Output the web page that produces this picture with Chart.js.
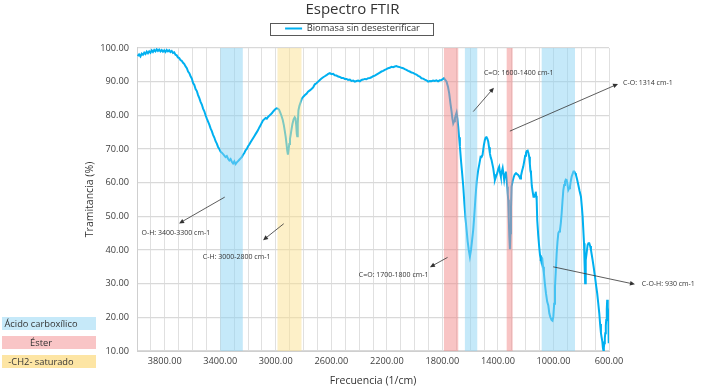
<!DOCTYPE html>
<html><head><meta charset="utf-8">
<script src="https://cdn.jsdelivr.net/npm/chart.js@4.4.1/dist/chart.umd.min.js"></script>
<style>html,body{margin:0;padding:0;background:#fff}#wrap{width:705px;height:391px;position:relative}</style>
</head><body><div id="wrap"><canvas id="c" width="705" height="391"></canvas></div>
<script>
// ---- data ----
const seriesName = 'Biomasa sin desesterificar';
const wavenumber = [3995,3985,3975,3966,3957,3948,3939,3930,3921,3912,3903,3894,3885,3876,3867,3858,3849,3840,3831,3822,3813,3804,3795,3786,3777,3768,3759,3750,3741,3732,3723,3714,3705,3696,3687,3678,3668,3659,3650,3641,3632,3623,3614,3605,3596,3587,3578,3569,3560,3551,3542,3533,3524,3515,3506,3497,3488,3479,3470,3461,3452,3443,3434,3425,3416,3407,3398,3389,3380,3371,3362,3353,3344,3335,3326,3317,3308,3299,3290,3281,3272,3263,3254,3245,3236,3227,3218,3209,3200,3191,3182,3173,3164,3155,3146,3137,3128,3119,3110,3101,3092,3083,3074,3065,3056,3047,3038,3029,3020,3011,3002,2995,2986,2977,2968,2959,2950,2942,2935,2929,2923,2918,2913,2908,2903,2898,2893,2887,2880,2872,2864,2858,2853,2849,2846,2842,2837,2830,2822,2812,2800,2790,2779,2768,2755,2743,2731,2719,2707,2695,2683,2671,2659,2647,2635,2623,2611,2599,2587,2575,2563,2551,2539,2527,2515,2503,2491,2479,2467,2455,2443,2431,2419,2407,2395,2383,2371,2359,2347,2335,2323,2311,2299,2287,2275,2263,2251,2239,2227,2215,2203,2191,2179,2167,2155,2143,2131,2119,2107,2095,2083,2071,2059,2047,2035,2023,2011,1999,1987,1975,1963,1951,1939,1927,1915,1903,1891,1879,1867,1855,1843,1831,1819,1807,1797,1789,1781,1770,1760,1751,1742,1734,1728,1722,1716,1710,1704,1698,1692,1686,1680,1674,1666,1658,1650,1642,1634,1626,1618,1610,1602,1594,1586,1578,1570,1562,1554,1548,1542,1534,1525,1518,1511,1502,1494,1488,1482,1476,1470,1464,1458,1452,1446,1440,1434,1428,1422,1414,1405,1398,1391,1385,1379,1372,1366,1360,1355,1349,1343,1338,1333,1329,1326,1322,1318,1314,1310,1306,1302,1294,1285,1278,1270,1262,1254,1246,1240,1234,1226,1218,1210,1204,1198,1192,1186,1180,1175,1170,1166,1162,1156,1150,1144,1138,1133,1128,1124,1121,1117,1110,1103,1097,1092,1086,1081,1075,1069,1062,1054,1045,1037,1030,1022,1013,1007,1001,995,989,983,977,971,965,959,953,947,941,935,929,923,917,911,905,899,893,887,881,875,869,862,856,850,844,838,830,821,812,802,796,790,785,780,776,772,769,766,760,754,748,742,736,730,724,718,710,701,693,685,677,670,664,658,653,648,644,641,637,634,630,627,623,620,616,613,609,605,602];
const transmittance = [97.6,98.1,97.5,98.3,98.0,98.6,98.2,98.9,98.4,99.0,98.6,99.3,98.8,99.4,99.0,99.6,99.1,99.5,99.0,99.4,98.9,99.3,98.8,99.4,99.0,99.3,98.8,99.1,98.5,98.7,98.0,97.8,97.2,97.0,96.4,96.2,95.6,95.2,94.5,94.0,93.0,92.5,91.6,90.9,89.6,89.0,87.8,87.2,86.0,85.1,84.0,83.2,82.0,81.2,80.0,79.0,78.1,77.2,76.1,75.3,74.2,73.4,72.3,71.6,70.6,70.0,69.2,68.9,68.5,68.0,67.6,67.9,67.1,66.6,67.0,66.2,65.7,66.3,65.5,66.0,66.4,66.8,67.2,67.6,68.3,68.8,69.6,70.0,70.8,71.3,72.0,72.6,73.2,73.8,74.4,75.0,75.6,76.4,77.0,77.8,78.5,78.8,79.2,79.0,79.5,79.9,80.2,80.6,81.1,81.5,81.9,82.1,82.0,81.7,80.8,79.8,78.6,77.0,75.2,73.6,71.5,69.6,68.3,69.8,71.5,73.0,74.2,75.8,77.5,78.8,79.4,79.0,77.0,74.5,73.8,77.5,81.5,82.8,83.8,85.0,85.6,86.0,86.4,87.0,87.4,87.8,88.3,89.2,89.5,90.0,90.5,90.9,91.3,91.6,91.9,92.3,92.5,92.2,92.3,91.9,91.8,91.5,91.4,91.1,91.1,90.8,90.8,90.5,90.6,90.2,90.3,90.0,90.2,90.3,90.1,90.5,90.6,90.8,90.7,91.0,91.1,91.3,91.6,91.8,92.1,92.4,92.7,93.0,93.2,93.5,93.7,94.0,94.1,94.4,94.3,94.5,94.6,94.4,94.3,94.1,94.0,93.7,93.5,93.2,93.0,92.7,92.6,92.3,92.1,91.7,91.5,91.0,90.9,90.6,90.4,90.0,90.2,90.1,90.3,90.2,90.4,90.1,90.4,90.5,90.7,91.0,90.6,90.0,88.5,86.5,83.5,81.1,79.0,77.6,78.2,79.1,80.0,80.8,79.0,76.6,73.5,70.7,66.5,62.8,59.0,54.0,49.5,46.0,42.5,40.0,38.0,40.0,43.0,46.0,50.5,55.5,60.0,62.0,63.8,65.5,67.7,67.6,68.2,71.0,72.7,73.4,73.5,73.0,72.2,70.5,68.7,67.5,66.7,65.5,64.3,62.5,60.8,61.8,62.8,64.0,64.7,63.0,61.8,63.3,64.3,62.5,60.8,62.5,63.3,61.5,58.8,56.5,54.9,49.5,44.0,40.2,45.0,52.5,58.8,60.5,61.8,62.5,62.8,62.5,62.3,61.8,61.2,62.0,63.5,64.7,66.5,68.0,68.9,69.4,69.5,68.7,67.7,65.5,63.5,62.8,59.0,57.3,55.8,55.8,56.5,57.3,56.0,54.9,48.9,44.5,41.0,38.5,37.5,37.8,37.5,35.0,33.1,30.0,27.1,24.6,23.5,21.2,20.0,19.2,19.0,20.2,24.0,29.1,34.0,39.0,42.5,45.0,45.5,45.9,48.0,50.9,54.5,57.8,59.3,60.3,60.9,60.8,59.5,57.8,58.3,58.8,60.5,61.8,62.6,63.3,63.3,62.8,62.3,61.0,59.3,57.5,55.8,53.0,49.9,46.0,42.0,36.0,30.1,33.5,37.0,39.5,41.5,42.0,42.0,41.2,40.0,38.5,37.0,34.8,32.1,29.5,27.1,24.0,21.2,18.0,15.3,14.0,12.8,11.0,10.3,11.0,12.3,13.8,15.3,17.5,19.2,22.5,25.2,23.0,21.2,12.3];
const xTickValues = [3800,3400,3000,2600,2200,1800,1400,1000,600];
const yTickValues = [100,90,80,70,60,50,40,30,20,10];
// highlighted bands (cm-1) and their group
const bandGroups = ['Ácido carboxílico','Éster','-CH2- saturado'];
const bandStart = [3400,2988,1789,1638,1337,1085];
const bandEnd   = [3238,2815,1686,1549,1294,845];
const bandGroup = [0,2,1,0,1,0];
// annotations
const annoText = ['O-H: 3400-3300 cm-1','C-H: 3000-2800 cm-1','C=O: 1700-1800 cm-1','C=O: 1600-1400 cm-1','C-O: 1314 cm-1','C-O-H: 930 cm-1'];
const annoTextAt   = [[3968,45.1],[3526,37.9],[2402,32.6],[1501,92.7],[499,89.7],[364,29.8]];
const annoFrom     = [[3368,55.7],[2943,47.8],[1763,37.8],[1578,81.1],[1314,75.3],[1002,35.0]];
const annoTo       = [[3697,47.9],[3092,42.9],[1890,34.9],[1429,88.2],[535,89.3],[413,29.8]];

// ---- styles ----
const FONT = "'Open Sans', sans-serif";
const bandFill = ['rgba(139,211,243,0.5)','rgba(241,137,137,0.5)','rgba(251,225,145,0.5)'];
const keyFill = ['#c6e9f9','#f9c5c6','#fde5a4'];

const bandsPlugin = {
  id:'bands',
  afterDatasetsDraw(chart){
    const {ctx, chartArea:a, scales:{x}} = chart;
    ctx.save();
    ctx.beginPath(); ctx.rect(a.left,a.top,a.right-a.left,a.bottom-a.top); ctx.clip();
    bandStart.forEach((s,i)=>{
      const x1 = x.getPixelForValue(s), x2 = x.getPixelForValue(bandEnd[i]);
      ctx.fillStyle = bandFill[bandGroup[i]];
      ctx.fillRect(Math.min(x1,x2), a.top, Math.abs(x2-x1), a.bottom-a.top);
    });
    ctx.restore();
  }
};

const annoPlugin = {
  id:'anno',
  afterDraw(chart){
    const {ctx, scales:{x,y}, legend} = chart;
    ctx.save();
    // arrows
    ctx.strokeStyle = '#333'; ctx.fillStyle = '#333'; ctx.lineWidth = 0.8;
    annoFrom.forEach((f,i)=>{
      const x1 = x.getPixelForValue(f[0]), y1 = y.getPixelForValue(f[1]);
      const x2 = x.getPixelForValue(annoTo[i][0]), y2 = y.getPixelForValue(annoTo[i][1]);
      const ang = Math.atan2(y2-y1, x2-x1), L = 5, W = 2.3;
      ctx.beginPath(); ctx.moveTo(x1,y1); ctx.lineTo(x2 - Math.cos(ang)*L*0.8, y2 - Math.sin(ang)*L*0.8); ctx.stroke();
      ctx.beginPath();
      ctx.moveTo(x2,y2);
      ctx.lineTo(x2 - Math.cos(ang)*L - Math.sin(ang)*W, y2 - Math.sin(ang)*L + Math.cos(ang)*W);
      ctx.lineTo(x2 - Math.cos(ang)*L + Math.sin(ang)*W, y2 - Math.sin(ang)*L - Math.cos(ang)*W);
      ctx.closePath(); ctx.fill();
    });
    ctx.font = "7px " + FONT; ctx.textAlign='left'; ctx.textBaseline='middle'; ctx.fillStyle='#333';
    annoText.forEach((t,i)=>{
      ctx.fillText(t, x.getPixelForValue(annoTextAt[i][0]), y.getPixelForValue(annoTextAt[i][1]));
    });
    // legend frame
    const hb = legend.legendHitBoxes[0];
    if (hb){
      const cy = hb.top + hb.height/2;
      ctx.strokeStyle = '#595959'; ctx.lineWidth = 1;
      ctx.strokeRect(Math.round(hb.left - 15)+0.5, Math.round(cy - 6)+0.5, Math.round(hb.width + 28), 12);
    }
    // group key boxes
    ctx.font = "9.3px " + FONT; ctx.textAlign='center'; ctx.textBaseline='middle';
    bandGroups.forEach((g,i)=>{
      const top = 317 + i*19;
      ctx.fillStyle = keyFill[i];
      ctx.fillRect(2, top, 94, 13);
      ctx.fillStyle = '#333';
      ctx.fillText(g, 41, top + 7);
    });
    ctx.restore();
  }
};

const tickFont = {family: FONT, size: 9.2};
new Chart(document.getElementById('c'), {
  type:'line',
  data:{datasets:[{
    label: seriesName,
    data: wavenumber.map((w,i)=>({x:w, y:transmittance[i]})),
    borderColor:'#00B0F0', backgroundColor:'#00B0F0', borderWidth:2,
    pointRadius:0, tension:0, fill:false, xAxisID:'x', yAxisID:'y'
  }]},
  options:{
    responsive:false, animation:false, devicePixelRatio:1,
    layout:{padding:0},
    plugins:{
      title:{display:true, text:'Espectro FTIR', color:'#333', font:{family:FONT, size:15, weight:'normal', lineHeight:1.3333}, padding:{top:0,bottom:0}},
      legend:{display:true, labels:{usePointStyle:true, pointStyle:'line', pointStyleWidth:17, color:'#333', font:{family:FONT, size:9.3}, padding:3.9}},
      tooltip:{enabled:false}
    },
    scales:{
      x:{type:'linear', position:'bottom', reverse:true, min:600, max:4000,
         afterBuildTicks: s => { const t=[]; for (let v=s.max; v>=s.min; v-=100) t.push({value:v}); s.ticks=t; },
         ticks:{autoSkip:false, maxRotation:0, padding:5, color:'#404040', font:tickFont,
                callback: v => xTickValues.includes(v) ? v.toFixed(2) : ''},
         grid:{color:'#e0e0e0', lineWidth:1, drawTicks:false},
         border:{color:'#cfcfcf'},
         title:{display:true, text:'Frecuencia (1/cm)', color:'#333', font:{family:FONT, size:10.5}, padding:{top:0,bottom:3.7}},
         afterFit: s => { s.height = 40; }},
      y:{type:'linear', position:'left', min:10, max:100,
         afterBuildTicks: s => { s.ticks = yTickValues.map(v=>({value:v})); },
         ticks:{padding:8, color:'#404040', font:tickFont, callback: v => v.toFixed(2)},
         grid:{color:'#d9d9d9', lineWidth:1.3, drawTicks:false},
         border:{color:'#cfcfcf'},
         title:{display:true, text:'Tramitancia (%)', color:'#333', font:{family:FONT, size:10.5}, padding:{top:83.7,bottom:0}},
         afterFit: s => { s.width = 137; }},
      padR:{type:'linear', position:'right', min:0, max:1, grid:{display:false, drawTicks:false}, ticks:{display:false}, border:{display:false},
         afterFit: s => { s.width = 96; }},
      padT:{type:'linear', position:'top', min:0, max:1, grid:{display:false, drawTicks:false}, ticks:{display:false}, border:{display:false},
         afterFit: s => { s.height = 4.75; }}
    }
  },
  plugins:[bandsPlugin, annoPlugin]
});
</script></body></html>
